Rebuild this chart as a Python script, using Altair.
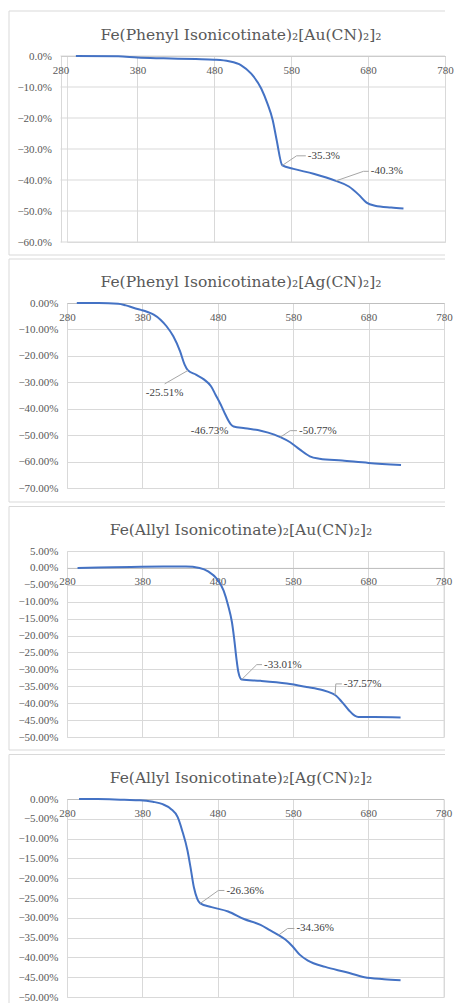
import altair as alt
import pandas as pd

FONT = "Liberation Serif"
TITLE_FONT = "DejaVu Serif"

titles = [
    "Fe(Phenyl Isonicotinate)₂[Au(CN)₂]₂",
    "Fe(Phenyl Isonicotinate)₂[Ag(CN)₂]₂",
    "Fe(Allyl Isonicotinate)₂[Au(CN)₂]₂",
    "Fe(Allyl Isonicotinate)₂[Ag(CN)₂]₂",
]

x_ticks = [280, 380, 480, 580, 680, 780]

# ---- Panel 1 : Fe(Phenyl Isonicotinate)2[Au(CN)2]2 ----
p1_temp = [300, 355, 380, 414, 456, 480, 499, 515, 528, 541, 549, 556, 561, 568.5,
           583, 609, 638, 655, 668, 678, 689, 710, 726]
p1_loss = [0, -0.1, -0.5, -0.75, -1.0, -1.2, -1.7, -3.0, -5.7, -10.5, -15.3, -20.7, -27.0, -35.3,
           -36.4, -38.0, -40.3, -42.1, -44.8, -47.3, -48.3, -48.9, -49.2]
p1_yticks = [0, -10, -20, -30, -40, -50, -60]

# ---- Panel 2 : Fe(Phenyl Isonicotinate)2[Ag(CN)2]2 ----
p2_temp = [293, 322, 348, 358, 369, 378, 386, 395, 404, 412, 421, 430, 436, 440.5,
           451, 462, 471, 477, 484, 490, 497, 501, 516, 537, 555, 563, 576, 589,
           602, 615, 645, 680, 723]
p2_loss = [0, 0, -0.25, -0.9, -1.9, -2.6, -3.3, -4.4, -6.3, -8.8, -12.6, -18.3, -23.3, -25.51,
           -27.1, -29.0, -31.5, -34.7, -38.5, -42.2, -45.8, -46.73, -47.4, -48.3, -49.8, -50.77, -52.7, -55.5,
           -58.0, -58.9, -59.6, -60.5, -61.3]
p2_yticks = [0, -10, -20, -30, -40, -50, -60, -70]

# ---- Panel 3 : Fe(Allyl Isonicotinate)2[Au(CN)2]2 ----
p3_temp = [294, 322, 365, 408, 438, 456, 468, 479, 488, 494, 499, 502, 505, 507.5,
           512, 537, 572, 598, 619, 632, 636, 645, 654, 662, 667, 688, 723]
p3_loss = [0, 0.1, 0.3, 0.4, 0.4, 0, -1.1, -3.2, -6.7, -11.1, -16.0, -20.9, -26.8, -30.7,
           -33.01, -33.4, -34.2, -35.2, -36.1, -37.1, -37.57, -39.6, -42.0, -43.7, -44.1, -44.1, -44.2]
p3_yticks = [5, 0, -5, -10, -15, -20, -25, -30, -35, -40, -45, -50]

# ---- Panel 4 : Fe(Allyl Isonicotinate)2[Ag(CN)2]2 ----
p4_temp = [296, 321, 356, 377, 394, 407, 418, 427, 433, 440, 444, 448.5, 453, 457,
           472, 494, 515, 537, 550, 561, 570, 580, 589, 600, 623, 650, 675, 701, 723]
p4_loss = [0, 0, -0.2, -0.3, -0.7, -1.3, -2.5, -4.6, -8.0, -13.0, -17.2, -22.3, -25.2, -26.36,
           -27.3, -28.4, -30.3, -31.8, -33.2, -34.36, -35.5, -37.3, -39.3, -40.8, -42.4, -43.7, -45.0, -45.5, -45.8]
p4_yticks = [0, -5, -10, -15, -20, -25, -30, -35, -40, -45, -50]

# ---- annotations: label, point (T, v), elbow (T, v), end T, text (T, v, align) ----
p1_ann_label = ["-35.3%", "-40.3%"]
p1_ann_pt = [(568.5, -35.3), (638, -40.3)]
p1_ann_elbow = [(587, -32.2), (674, -37.2)]
p1_ann_end = [599, 681]
p1_ann_text = [(599, -32.2, "left"), (681, -37.2, "left")]

p2_ann_label = ["-25.51%", "-46.73%", "-50.77%"]
p2_ann_pt = [(440.5, -25.51), None, (563, -50.77)]
p2_ann_elbow = [(409.5, -30.6), None, (576, -48.3)]
p2_ann_end = [None, None, 585]
p2_ann_text = [(409.5, -34.1, "center"), (494, -48.3, "right"), (585, -48.4, "left")]

p3_ann_label = ["-33.01%", "-37.57%"]
p3_ann_pt = [(512, -33.01), (636, -37.57)]
p3_ann_elbow = [(532, -28.6), (637, -34.3)]
p3_ann_end = [539, 645]
p3_ann_text = [(539, -28.6, "left"), (645, -34.4, "left")]

p4_ann_label = ["-26.36%", "-34.36%"]
p4_ann_pt = [(457, -26.36), (561, -34.36)]
p4_ann_elbow = [(481, -23.1), (573, -32.7)]
p4_ann_end = [489, 582]
p4_ann_text = [(489, -23.2, "left"), (582, -32.7, "left")]

CW = 436  # inner width of every chart-area frame

panels = [
    dict(title=titles[0], temp=p1_temp, loss=p1_loss, yticks=p1_yticks, fmt=".1%",
         labels=p1_ann_label, pts=p1_ann_pt, elbows=p1_ann_elbow, ends=p1_ann_end, texts=p1_ann_text,
         W=378, H=186, shift=-6.5, left=58, top=-45, bottom=13, draw_bottom=True),
    dict(title=titles[1], temp=p2_temp, loss=p2_loss, yticks=p2_yticks, fmt=".2%",
         labels=p2_ann_label, pts=p2_ann_pt, elbows=p2_ann_elbow, ends=p2_ann_end, texts=p2_ann_text,
         W=377, H=185, shift=0, left=58, top=-44, bottom=14, draw_bottom=True),
    dict(title=titles[2], temp=p3_temp, loss=p3_loss, yticks=p3_yticks, fmt=".2%",
         labels=p3_ann_label, pts=p3_ann_pt, elbows=p3_ann_elbow, ends=p3_ann_end, texts=p3_ann_text,
         W=376.5, H=186, shift=0, left=58, top=-44.5, bottom=13, draw_bottom=True),
    dict(title=titles[3], temp=p4_temp, loss=p4_loss, yticks=p4_yticks, fmt=".2%",
         labels=p4_ann_label, pts=p4_ann_pt, elbows=p4_ann_elbow, ends=p4_ann_end, texts=p4_ann_text,
         W=376.5, H=198, shift=0, left=58, top=-44.5, bottom=7, draw_bottom=False),
]

GRID = "#d9d9d9"
BORDER = "#d9d9d9"
LABEL = "#595959"
TITLE_CENTER = 232  # title centre, measured from the chart-area frame


def make_panel(p):
    W, H, shift = p["W"], p["H"], p["shift"]
    ymin = min(p["yticks"]) / 100
    ymax = max(p["yticks"]) / 100
    y0px = H * (ymax - 0) / (ymax - ymin)
    df = pd.DataFrame({"T": p["temp"], "v": [v / 100 for v in p["loss"]]})
    custom_grid = shift != 0

    x_scale = alt.Scale(domain=[280, 780], nice=False, zero=False)
    if custom_grid:
        x_scale = alt.Scale(domain=[280, 780], nice=False, zero=False, range=[shift, W])
    x_enc = alt.X("T:Q", scale=x_scale,
                  axis=alt.Axis(values=x_ticks, orient="bottom", offset=y0px - H, grid=True,
                                gridColor=GRID, domainColor="#bfbfbf", ticks=False, tickSize=0,
                                labelPadding=8, labelFlush=False, labelOverlap=False,
                                labelFont=FONT, labelFontSize=11, labelColor=LABEL, title=None))
    y_enc = alt.Y("v:Q", scale=alt.Scale(domain=[ymin, ymax], nice=False, zero=False),
                  axis=alt.Axis(values=[t / 100 for t in p["yticks"]], format=p["fmt"],
                                grid=not custom_grid, gridColor=GRID, domain=False, ticks=False,
                                tickSize=0, labelPadding=9 - shift, labelOverlap=False,
                                labelFont=FONT, labelFontSize=11, labelColor=LABEL, title=None))

    layers = []
    if custom_grid:
        gdf = pd.DataFrame({"v": [t / 100 for t in p["yticks"]]})
        layers.append(alt.Chart(gdf).mark_rule(color=GRID, strokeWidth=1).encode(
            x=alt.value(shift), x2=alt.value(W), y=y_enc))

    line = alt.Chart(df).mark_line(color="#4472C4", strokeWidth=2, interpolate="monotone").encode(
        x=x_enc, y=y_enc)

    # leader lines
    rows = []
    for i, (pt, el, en) in enumerate(zip(p["pts"], p["elbows"], p["ends"])):
        if pt is None:
            continue
        rows.append({"id": i, "o": 0, "T": pt[0], "v": pt[1] / 100})
        rows.append({"id": i, "o": 1, "T": el[0], "v": el[1] / 100})
        if en is not None:
            rows.append({"id": i, "o": 2, "T": en, "v": el[1] / 100})
    lead = alt.Chart(pd.DataFrame(rows)).mark_line(color="#a6a6a6", strokeWidth=1).encode(
        x=x_enc, y=y_enc, detail="id:N", order="o:Q")

    layers += [line, lead]
    for align in ["left", "center", "right"]:
        trows = [{"T": t[0], "v": t[1] / 100, "label": lab}
                 for lab, t in zip(p["labels"], p["texts"]) if t[2] == align]
        if not trows:
            continue
        dx = 2 if align == "left" else 0
        layers.append(alt.Chart(pd.DataFrame(trows)).mark_text(
            align=align, baseline="middle", dx=dx, font=FONT, fontSize=11, color="#404040").encode(
            x=x_enc, y=y_enc, text="label:N"))

    # chart title
    layers.append(alt.Chart(pd.DataFrame({"title": [p["title"]]})).mark_text(
        align="center", baseline="middle", font=TITLE_FONT, fontSize=15.5, color=LABEL).encode(
        x=alt.value(TITLE_CENTER - p["left"]), y=alt.value(-21.5), text="title:N"))

    # chart-area frame (left, top, bottom edges)
    one = pd.DataFrame({"k": [0]})
    R = CW - p["left"]
    bottom = H + p["bottom"]
    layers.append(alt.Chart(one).mark_rule(color=BORDER, strokeWidth=1).encode(
        x=alt.value(-p["left"]), y=alt.value(p["top"]), y2=alt.value(bottom)))
    layers.append(alt.Chart(one).mark_rule(color=BORDER, strokeWidth=1).encode(
        x=alt.value(-p["left"]), x2=alt.value(R), y=alt.value(p["top"])))
    if p["draw_bottom"]:
        layers.append(alt.Chart(one).mark_rule(color=BORDER, strokeWidth=1).encode(
            x=alt.value(-p["left"]), x2=alt.value(R), y=alt.value(bottom)))

    return alt.layer(*layers).properties(width=W, height=H)


chart = alt.vconcat(*[make_panel(p) for p in panels], spacing=2).properties(
    padding={"left": 0, "top": 2, "right": 0, "bottom": 0},
).configure_view(strokeWidth=0).configure(background="white")

chart.save("out.html", embed_options={"renderer": "svg", "actions": False})
